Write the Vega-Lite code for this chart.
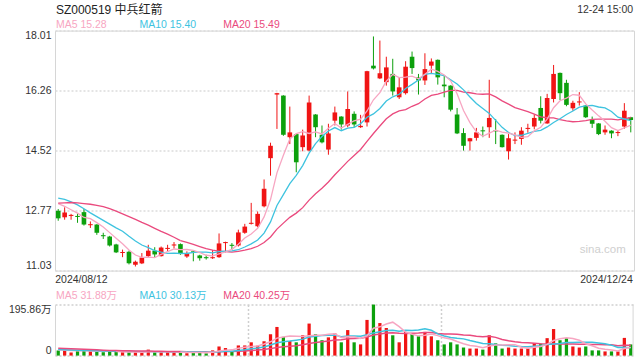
{
  "$schema": "https://vega.github.io/schema/vega-lite/v6.json",
  "padding": {"left": 8, "top": 2.6, "right": 5, "bottom": 5},
  "background": "white",
  "bounds": "flush",
  "spacing": 34,
  "config": {
    "font": "Liberation Sans, Noto Sans CJK SC, sans-serif",
    "axis": {"labelFont": "Liberation Sans, Noto Sans CJK SC, sans-serif", "labelFontSize": 10.5, "labelColor": "#333333", "ticks": false, "tickSize": 0, "domain": false, "title": null},
    "view": {"stroke": "#d6d6d6"}
  },
  "datasets": {
    "k": [
      {"d": "2024/08/12", "o": 12.77, "h": 12.82, "l": 12.48, "c": 12.55, "v": 19.6},
      {"d": "2024/08/13", "o": 12.58, "h": 12.87, "l": 12.51, "c": 12.72, "v": 21},
      {"d": "2024/08/14", "o": 12.62, "h": 12.68, "l": 12.51, "c": 12.65, "v": 12},
      {"d": "2024/08/15", "o": 12.62, "h": 12.70, "l": 12.42, "c": 12.59, "v": 17},
      {"d": "2024/08/16", "o": 12.73, "h": 12.82, "l": 12.34, "c": 12.37, "v": 22},
      {"d": "2024/08/19", "o": 12.35, "h": 12.46, "l": 12.27, "c": 12.38, "v": 17},
      {"d": "2024/08/20", "o": 12.37, "h": 12.38, "l": 12.07, "c": 12.13, "v": 17},
      {"d": "2024/08/21", "o": 12.06, "h": 12.13, "l": 11.95, "c": 12.03, "v": 13},
      {"d": "2024/08/22", "o": 12.02, "h": 12.04, "l": 11.73, "c": 11.76, "v": 17},
      {"d": "2024/08/23", "o": 11.79, "h": 11.81, "l": 11.54, "c": 11.56, "v": 14},
      {"d": "2024/08/26", "o": 11.54, "h": 11.64, "l": 11.42, "c": 11.57, "v": 13},
      {"d": "2024/08/27", "o": 11.58, "h": 11.61, "l": 11.21, "c": 11.24, "v": 13},
      {"d": "2024/08/28", "o": 11.20, "h": 11.32, "l": 11.15, "c": 11.29, "v": 13},
      {"d": "2024/08/29", "o": 11.24, "h": 11.54, "l": 11.22, "c": 11.41, "v": 13},
      {"d": "2024/08/30", "o": 11.45, "h": 11.78, "l": 11.42, "c": 11.61, "v": 23},
      {"d": "2024/09/02", "o": 11.61, "h": 11.71, "l": 11.42, "c": 11.50, "v": 13},
      {"d": "2024/09/03", "o": 11.45, "h": 11.73, "l": 11.44, "c": 11.70, "v": 13},
      {"d": "2024/09/04", "o": 11.66, "h": 11.78, "l": 11.59, "c": 11.69, "v": 13},
      {"d": "2024/09/05", "o": 11.76, "h": 11.86, "l": 11.67, "c": 11.79, "v": 13},
      {"d": "2024/09/06", "o": 11.80, "h": 11.82, "l": 11.49, "c": 11.51, "v": 14},
      {"d": "2024/09/09", "o": 11.44, "h": 11.59, "l": 11.40, "c": 11.53, "v": 9},
      {"d": "2024/09/10", "o": 11.59, "h": 11.61, "l": 11.30, "c": 11.56, "v": 12},
      {"d": "2024/09/11", "o": 11.47, "h": 11.49, "l": 11.32, "c": 11.39, "v": 12},
      {"d": "2024/09/12", "o": 11.42, "h": 11.49, "l": 11.35, "c": 11.39, "v": 9},
      {"d": "2024/09/13", "o": 11.39, "h": 11.63, "l": 11.37, "c": 11.42, "v": 20},
      {"d": "2024/09/18", "o": 11.42, "h": 12.11, "l": 11.40, "c": 11.82, "v": 35},
      {"d": "2024/09/19", "o": 11.83, "h": 11.87, "l": 11.56, "c": 11.86, "v": 29},
      {"d": "2024/09/20", "o": 11.78, "h": 11.83, "l": 11.63, "c": 11.75, "v": 17},
      {"d": "2024/09/23", "o": 11.76, "h": 12.22, "l": 11.73, "c": 12.14, "v": 39},
      {"d": "2024/09/24", "o": 12.13, "h": 12.39, "l": 12.10, "c": 12.31, "v": 39},
      {"d": "2024/09/25", "o": 12.39, "h": 13.00, "l": 12.37, "c": 12.42, "v": 51},
      {"d": "2024/09/26", "o": 12.32, "h": 12.75, "l": 12.29, "c": 12.68, "v": 38},
      {"d": "2024/09/27", "o": 12.90, "h": 13.68, "l": 12.87, "c": 13.41, "v": 55},
      {"d": "2024/09/30", "o": 14.30, "h": 14.75, "l": 13.79, "c": 14.66, "v": 82},
      {"d": "2024/10/08", "o": 16.15, "h": 16.20, "l": 15.15, "c": 16.19, "v": 110},
      {"d": "2024/10/09", "o": 16.12, "h": 16.13, "l": 14.95, "c": 14.98, "v": 72},
      {"d": "2024/10/10", "o": 14.91, "h": 15.80, "l": 14.71, "c": 15.05, "v": 56},
      {"d": "2024/10/11", "o": 15.00, "h": 15.01, "l": 13.89, "c": 14.18, "v": 51},
      {"d": "2024/10/14", "o": 14.62, "h": 15.13, "l": 14.50, "c": 14.96, "v": 78},
      {"d": "2024/10/15", "o": 14.52, "h": 16.12, "l": 14.50, "c": 15.92, "v": 123},
      {"d": "2024/10/16", "o": 15.57, "h": 15.58, "l": 14.91, "c": 15.20, "v": 82},
      {"d": "2024/10/17", "o": 14.98, "h": 15.25, "l": 14.73, "c": 14.76, "v": 59},
      {"d": "2024/10/18", "o": 14.55, "h": 15.30, "l": 14.40, "c": 15.02, "v": 70},
      {"d": "2024/10/21", "o": 15.39, "h": 15.80, "l": 15.25, "c": 15.63, "v": 85},
      {"d": "2024/10/22", "o": 15.51, "h": 15.52, "l": 15.13, "c": 15.28, "v": 51},
      {"d": "2024/10/23", "o": 15.25, "h": 16.24, "l": 15.20, "c": 15.73, "v": 98},
      {"d": "2024/10/24", "o": 15.59, "h": 15.66, "l": 15.20, "c": 15.28, "v": 51},
      {"d": "2024/10/25", "o": 15.20, "h": 15.56, "l": 15.18, "c": 15.24, "v": 43},
      {"d": "2024/10/28", "o": 15.34, "h": 16.84, "l": 15.22, "c": 16.83, "v": 137},
      {"d": "2024/10/29", "o": 16.99, "h": 17.84, "l": 16.88, "c": 16.91, "v": 196},
      {"d": "2024/10/30", "o": 16.62, "h": 17.72, "l": 16.60, "c": 16.77, "v": 125},
      {"d": "2024/10/31", "o": 16.51, "h": 17.25, "l": 16.41, "c": 16.94, "v": 106},
      {"d": "2024/11/01", "o": 16.75, "h": 17.19, "l": 16.12, "c": 16.24, "v": 78},
      {"d": "2024/11/04", "o": 16.07, "h": 16.65, "l": 16.02, "c": 16.36, "v": 51},
      {"d": "2024/11/05", "o": 16.19, "h": 17.12, "l": 16.15, "c": 16.96, "v": 91},
      {"d": "2024/11/06", "o": 17.25, "h": 17.40, "l": 16.75, "c": 16.92, "v": 85},
      {"d": "2024/11/07", "o": 16.65, "h": 16.75, "l": 16.15, "c": 16.56, "v": 74},
      {"d": "2024/11/08", "o": 16.56, "h": 17.35, "l": 16.43, "c": 16.89, "v": 91},
      {"d": "2024/11/11", "o": 16.99, "h": 17.20, "l": 16.77, "c": 17.11, "v": 74},
      {"d": "2024/11/12", "o": 17.16, "h": 17.17, "l": 16.44, "c": 16.65, "v": 59},
      {"d": "2024/11/13", "o": 16.44, "h": 16.72, "l": 16.07, "c": 16.39, "v": 43},
      {"d": "2024/11/14", "o": 16.41, "h": 16.42, "l": 15.66, "c": 15.71, "v": 51},
      {"d": "2024/11/15", "o": 15.57, "h": 15.76, "l": 15.00, "c": 15.02, "v": 43},
      {"d": "2024/11/18", "o": 15.03, "h": 15.17, "l": 14.52, "c": 14.66, "v": 31},
      {"d": "2024/11/19", "o": 14.79, "h": 14.89, "l": 14.52, "c": 14.88, "v": 27},
      {"d": "2024/11/20", "o": 14.89, "h": 15.18, "l": 14.81, "c": 15.05, "v": 27},
      {"d": "2024/11/21", "o": 15.11, "h": 15.22, "l": 14.91, "c": 15.08, "v": 23},
      {"d": "2024/11/22", "o": 15.20, "h": 16.58, "l": 14.89, "c": 15.47, "v": 78},
      {"d": "2024/11/25", "o": 15.11, "h": 15.44, "l": 14.71, "c": 15.08, "v": 47},
      {"d": "2024/11/26", "o": 14.98, "h": 14.99, "l": 14.61, "c": 14.62, "v": 27},
      {"d": "2024/11/27", "o": 14.50, "h": 15.00, "l": 14.26, "c": 14.88, "v": 31},
      {"d": "2024/11/28", "o": 14.81, "h": 15.05, "l": 14.71, "c": 14.84, "v": 27},
      {"d": "2024/11/29", "o": 14.86, "h": 15.20, "l": 14.69, "c": 15.10, "v": 27},
      {"d": "2024/12/02", "o": 15.15, "h": 15.30, "l": 15.04, "c": 15.18, "v": 27},
      {"d": "2024/12/03", "o": 15.22, "h": 15.57, "l": 15.14, "c": 15.47, "v": 48},
      {"d": "2024/12/04", "o": 15.76, "h": 16.10, "l": 15.31, "c": 15.39, "v": 46},
      {"d": "2024/12/05", "o": 15.31, "h": 16.17, "l": 15.30, "c": 16.05, "v": 67},
      {"d": "2024/12/06", "o": 16.02, "h": 17.01, "l": 15.92, "c": 16.75, "v": 102},
      {"d": "2024/12/09", "o": 16.78, "h": 16.79, "l": 15.99, "c": 16.19, "v": 59},
      {"d": "2024/12/10", "o": 16.49, "h": 16.58, "l": 15.81, "c": 15.85, "v": 67},
      {"d": "2024/12/11", "o": 15.75, "h": 15.97, "l": 15.68, "c": 15.91, "v": 35},
      {"d": "2024/12/12", "o": 15.92, "h": 16.22, "l": 15.83, "c": 15.95, "v": 31},
      {"d": "2024/12/13", "o": 15.83, "h": 15.84, "l": 15.47, "c": 15.49, "v": 35},
      {"d": "2024/12/16", "o": 15.42, "h": 15.51, "l": 15.18, "c": 15.30, "v": 20},
      {"d": "2024/12/17", "o": 15.31, "h": 15.32, "l": 14.97, "c": 15.00, "v": 20},
      {"d": "2024/12/18", "o": 15.05, "h": 15.25, "l": 14.98, "c": 15.13, "v": 16},
      {"d": "2024/12/19", "o": 15.10, "h": 15.11, "l": 14.88, "c": 15.02, "v": 16},
      {"d": "2024/12/20", "o": 15.03, "h": 15.12, "l": 14.94, "c": 15.06, "v": 16},
      {"d": "2024/12/23", "o": 15.22, "h": 15.90, "l": 15.15, "c": 15.68, "v": 68},
      {"d": "2024/12/24", "o": 15.49, "h": 15.50, "l": 15.05, "c": 15.41, "v": 43}
    ],
    "pe": [
      {"d": "2024/08/12", "s": "MA5", "m": 12.98},
      {"d": "2024/08/13", "s": "MA5", "m": 12.90},
      {"d": "2024/08/14", "s": "MA5", "m": 12.80},
      {"d": "2024/08/15", "s": "MA5", "m": 12.70},
      {"d": "2024/08/16", "s": "MA5", "m": 12.576},
      {"d": "2024/08/12", "s": "MA10", "m": 13.14},
      {"d": "2024/08/13", "s": "MA10", "m": 13.10},
      {"d": "2024/08/14", "s": "MA10", "m": 13.03},
      {"d": "2024/08/15", "s": "MA10", "m": 12.94},
      {"d": "2024/08/16", "s": "MA10", "m": 12.83},
      {"d": "2024/08/19", "s": "MA10", "m": 12.71},
      {"d": "2024/08/20", "s": "MA10", "m": 12.60},
      {"d": "2024/08/21", "s": "MA10", "m": 12.49},
      {"d": "2024/08/22", "s": "MA10", "m": 12.38},
      {"d": "2024/08/23", "s": "MA10", "m": 12.274},
      {"d": "2024/08/12", "s": "MA20", "m": 12.99},
      {"d": "2024/08/13", "s": "MA20", "m": 13.00},
      {"d": "2024/08/14", "s": "MA20", "m": 13.01},
      {"d": "2024/08/15", "s": "MA20", "m": 13.00},
      {"d": "2024/08/16", "s": "MA20", "m": 12.98},
      {"d": "2024/08/19", "s": "MA20", "m": 12.96},
      {"d": "2024/08/20", "s": "MA20", "m": 12.93},
      {"d": "2024/08/21", "s": "MA20", "m": 12.89},
      {"d": "2024/08/22", "s": "MA20", "m": 12.83},
      {"d": "2024/08/23", "s": "MA20", "m": 12.76},
      {"d": "2024/08/26", "s": "MA20", "m": 12.68},
      {"d": "2024/08/27", "s": "MA20", "m": 12.60},
      {"d": "2024/08/28", "s": "MA20", "m": 12.52},
      {"d": "2024/08/29", "s": "MA20", "m": 12.43},
      {"d": "2024/08/30", "s": "MA20", "m": 12.35},
      {"d": "2024/09/02", "s": "MA20", "m": 12.26},
      {"d": "2024/09/03", "s": "MA20", "m": 12.17},
      {"d": "2024/09/04", "s": "MA20", "m": 12.09},
      {"d": "2024/09/05", "s": "MA20", "m": 12.00},
      {"d": "2024/09/06", "s": "MA20", "m": 11.9025}
    ],
    "ve": [
      {"d": "2024/08/12", "s": "MA5", "m": 22},
      {"d": "2024/08/13", "s": "MA5", "m": 21},
      {"d": "2024/08/14", "s": "MA5", "m": 20},
      {"d": "2024/08/15", "s": "MA5", "m": 19},
      {"d": "2024/08/16", "s": "MA5", "m": 18.32},
      {"d": "2024/08/12", "s": "MA10", "m": 23.5},
      {"d": "2024/08/13", "s": "MA10", "m": 22.5},
      {"d": "2024/08/14", "s": "MA10", "m": 21.5},
      {"d": "2024/08/15", "s": "MA10", "m": 20.5},
      {"d": "2024/08/16", "s": "MA10", "m": 20},
      {"d": "2024/08/19", "s": "MA10", "m": 19.5},
      {"d": "2024/08/20", "s": "MA10", "m": 18.5},
      {"d": "2024/08/21", "s": "MA10", "m": 18},
      {"d": "2024/08/22", "s": "MA10", "m": 17.5},
      {"d": "2024/08/23", "s": "MA10", "m": 16.96},
      {"d": "2024/08/12", "s": "MA20", "m": 28},
      {"d": "2024/08/13", "s": "MA20", "m": 27},
      {"d": "2024/08/14", "s": "MA20", "m": 26},
      {"d": "2024/08/15", "s": "MA20", "m": 25},
      {"d": "2024/08/16", "s": "MA20", "m": 24},
      {"d": "2024/08/19", "s": "MA20", "m": 23},
      {"d": "2024/08/20", "s": "MA20", "m": 22},
      {"d": "2024/08/21", "s": "MA20", "m": 21},
      {"d": "2024/08/22", "s": "MA20", "m": 20},
      {"d": "2024/08/23", "s": "MA20", "m": 19.5},
      {"d": "2024/08/26", "s": "MA20", "m": 19},
      {"d": "2024/08/27", "s": "MA20", "m": 18.5},
      {"d": "2024/08/28", "s": "MA20", "m": 18},
      {"d": "2024/08/29", "s": "MA20", "m": 17.5},
      {"d": "2024/08/30", "s": "MA20", "m": 17.2},
      {"d": "2024/09/02", "s": "MA20", "m": 16.8},
      {"d": "2024/09/03", "s": "MA20", "m": 16.4},
      {"d": "2024/09/04", "s": "MA20", "m": 16.1},
      {"d": "2024/09/05", "s": "MA20", "m": 15.8},
      {"d": "2024/09/06", "s": "MA20", "m": 15.53}
    ]
  },
  "vconcat": [
    {
      "width": 579,
      "height": 240,
      "data": {"name": "k"},
      "encoding": {
        "x": {"field": "d", "type": "ordinal", "scale": {"paddingInner": 0.28, "paddingOuter": 0.14},
          "axis": {"values": ["2024/08/12", "2024/12/24"], "labelAngle": 0, "labelFlush": 8, "labelPadding": 4,
            "labelOffset": {"condition": {"test": "datum.value == '2024/08/12'", "value": -3}, "value": 2},
            "grid": false, "title": null}}
      },
      "layer": [
        {
          "mark": {"type": "rule", "strokeWidth": 1},
          "encoding": {
            "y": {"field": "l", "type": "quantitative", "scale": {"domain": [11.03, 18.01], "nice": false, "zero": false},
              "axis": {"values": [11.03, 12.77, 14.52, 16.26, 18.01], "format": ".2f", "labelFlush": true, "labelPadding": 4, "grid": true, "gridColor": "#dcdcdc", "gridDash": [2, 2], "gridWidth": 1.5, "title": null}},
            "y2": {"field": "h"},
            "color": {"condition": {"test": "datum.c >= datum.o", "value": "#f01414"}, "value": "#0ca00c"}
          }
        },
        {
          "mark": {"type": "bar"},
          "encoding": {
            "y": {"field": "o", "type": "quantitative"},
            "y2": {"field": "c"},
            "color": {"condition": {"test": "datum.c >= datum.o", "value": "#f01414"}, "value": "#0ca00c"}
          }
        },
        {
          "transform": [{"window": [{"op": "mean", "field": "c", "as": "m"}, {"op": "count", "as": "n"}], "frame": [-19, 0], "sort": [{"field": "d"}]}, {"filter": "datum.n >= 20"}],
          "mark": {"type": "line", "color": "#ea4a7e", "strokeWidth": 1.3},
          "encoding": {"y": {"field": "m", "type": "quantitative"}}
        },
        {
          "transform": [{"window": [{"op": "mean", "field": "c", "as": "m"}, {"op": "count", "as": "n"}], "frame": [-9, 0], "sort": [{"field": "d"}]}, {"filter": "datum.n >= 10"}],
          "mark": {"type": "line", "color": "#3ec3df", "strokeWidth": 1.3},
          "encoding": {"y": {"field": "m", "type": "quantitative"}}
        },
        {
          "transform": [{"window": [{"op": "mean", "field": "c", "as": "m"}, {"op": "count", "as": "n"}], "frame": [-4, 0], "sort": [{"field": "d"}]}, {"filter": "datum.n >= 5"}],
          "mark": {"type": "line", "color": "#f7a6c2", "strokeWidth": 1.3},
          "encoding": {"y": {"field": "m", "type": "quantitative"}}
        },
        {
          "data": {"name": "pe"},
          "mark": {"type": "line", "strokeWidth": 1.3},
          "encoding": {
            "y": {"field": "m", "type": "quantitative"},
            "color": {"field": "s", "type": "nominal", "scale": {"domain": ["MA5", "MA10", "MA20"], "range": ["#f7a6c2", "#3ec3df", "#ea4a7e"]}, "legend": null}
          }
        },
        {
          "data": {"values": [
            {"t": "MA5 15.28", "s": "MA5", "d": "2024/08/12"},
            {"t": "MA10 15.40", "s": "MA10", "d": "2024/08/29"},
            {"t": "MA20 15.49", "s": "MA20", "d": "2024/09/19"}
          ]},
          "mark": {"type": "text", "align": "left", "baseline": "middle", "dy": -6, "fontSize": 10.5},
          "encoding": {
            "x": {"field": "d", "type": "ordinal", "bandPosition": 0},
            "y": {"datum": 18.01},
            "text": {"field": "t"},
            "color": {"field": "s", "type": "nominal", "legend": null}
          }
        },
        {
          "data": {"values": [{"t": "SZ000519 中兵红箭", "d": "2024/08/12"}]},
          "mark": {"type": "text", "align": "left", "baseline": "middle", "dy": -21, "fontSize": 12, "color": "#222222"},
          "encoding": {"x": {"field": "d", "type": "ordinal", "bandPosition": 0}, "y": {"datum": 18.01}, "text": {"field": "t"}}
        },
        {
          "data": {"values": [{"t": "12-24 15:00", "d": "2024/12/24"}]},
          "mark": {"type": "text", "align": "right", "baseline": "middle", "dy": -21, "fontSize": 10.5, "color": "#333333"},
          "encoding": {"x": {"field": "d", "type": "ordinal", "bandPosition": 1}, "y": {"datum": 18.01}, "text": {"field": "t"}}
        },
        {
          "data": {"values": [{"t": "sina.com", "d": "2024/12/18", "p": 11.64}]},
          "mark": {"type": "text", "align": "center", "baseline": "middle", "fontSize": 11.5, "color": "#cfcfcf"},
          "encoding": {"x": {"field": "d", "type": "ordinal", "bandPosition": 0}, "y": {"field": "p", "type": "quantitative"}, "text": {"field": "t"}}
        }
      ]
    },
    {
      "width": 579,
      "height": 51,
      "data": {"name": "k"},
      "view": {"stroke": null},
      "encoding": {
        "x": {"field": "d", "type": "ordinal", "scale": {"paddingInner": 0.28, "paddingOuter": 0.14},
          "axis": {"values": ["2024/09/25", "2024/11/13"], "bandPosition": 0, "labels": false, "grid": true, "gridColor": "#cfcfcf", "gridDash": [2, 2], "gridWidth": 1.5, "domain": false, "title": null}}
      },
      "layer": [
        {
          "mark": {"type": "bar", "width": {"band": 0.7}},
          "encoding": {
            "y": {"field": "v", "type": "quantitative", "scale": {"domain": [0, 195.86], "nice": false},
              "axis": {"values": [0, 195.86], "labelExpr": "datum.value == 0 ? '0' : format(datum.value, '.2f') + '万'", "labelFlush": true, "labelPadding": 4, "grid": true, "gridColor": "#cfcfcf", "gridDash": [2, 2], "gridWidth": 1.5, "domain": true, "domainColor": "#d6d6d6", "title": null}},
            "color": {"condition": {"test": "datum.c >= datum.o", "value": "#f01414"}, "value": "#0ca00c"}
          }
        },
        {
          "transform": [{"window": [{"op": "mean", "field": "v", "as": "m"}, {"op": "count", "as": "n"}], "frame": [-19, 0], "sort": [{"field": "d"}]}, {"filter": "datum.n >= 20"}],
          "mark": {"type": "line", "color": "#ea4a7e", "strokeWidth": 1.5},
          "encoding": {"y": {"field": "m", "type": "quantitative"}}
        },
        {
          "transform": [{"window": [{"op": "mean", "field": "v", "as": "m"}, {"op": "count", "as": "n"}], "frame": [-9, 0], "sort": [{"field": "d"}]}, {"filter": "datum.n >= 10"}],
          "mark": {"type": "line", "color": "#3ec3df", "strokeWidth": 1.5},
          "encoding": {"y": {"field": "m", "type": "quantitative"}}
        },
        {
          "transform": [{"window": [{"op": "mean", "field": "v", "as": "m"}, {"op": "count", "as": "n"}], "frame": [-4, 0], "sort": [{"field": "d"}]}, {"filter": "datum.n >= 5"}],
          "mark": {"type": "line", "color": "#f7a6c2", "strokeWidth": 1.5},
          "encoding": {"y": {"field": "m", "type": "quantitative"}}
        },
        {
          "data": {"name": "ve"},
          "mark": {"type": "line", "strokeWidth": 1.5},
          "encoding": {
            "y": {"field": "m", "type": "quantitative"},
            "color": {"field": "s", "type": "nominal", "scale": {"domain": ["MA5", "MA10", "MA20"], "range": ["#f7a6c2", "#3ec3df", "#ea4a7e"]}, "legend": null}
          }
        },
        {
          "data": {"values": [
            {"t": "MA5 31.88万", "s": "MA5", "d": "2024/08/12"},
            {"t": "MA10 30.13万", "s": "MA10", "d": "2024/08/29"},
            {"t": "MA20 40.25万", "s": "MA20", "d": "2024/09/19"}
          ]},
          "mark": {"type": "text", "align": "left", "baseline": "middle", "dy": -9, "fontSize": 10.5},
          "encoding": {
            "x": {"field": "d", "type": "ordinal", "bandPosition": 0},
            "y": {"datum": 195.86},
            "text": {"field": "t"},
            "color": {"field": "s", "type": "nominal", "legend": null}
          }
        },
        {
          "data": {"values": [{"d": "2024/12/24"}]},
          "mark": {"type": "rule", "color": "#d6d6d6", "strokeWidth": 1},
          "encoding": {"x": {"field": "d", "type": "ordinal", "bandPosition": 1}}
        }
      ]
    }
  ]
}
